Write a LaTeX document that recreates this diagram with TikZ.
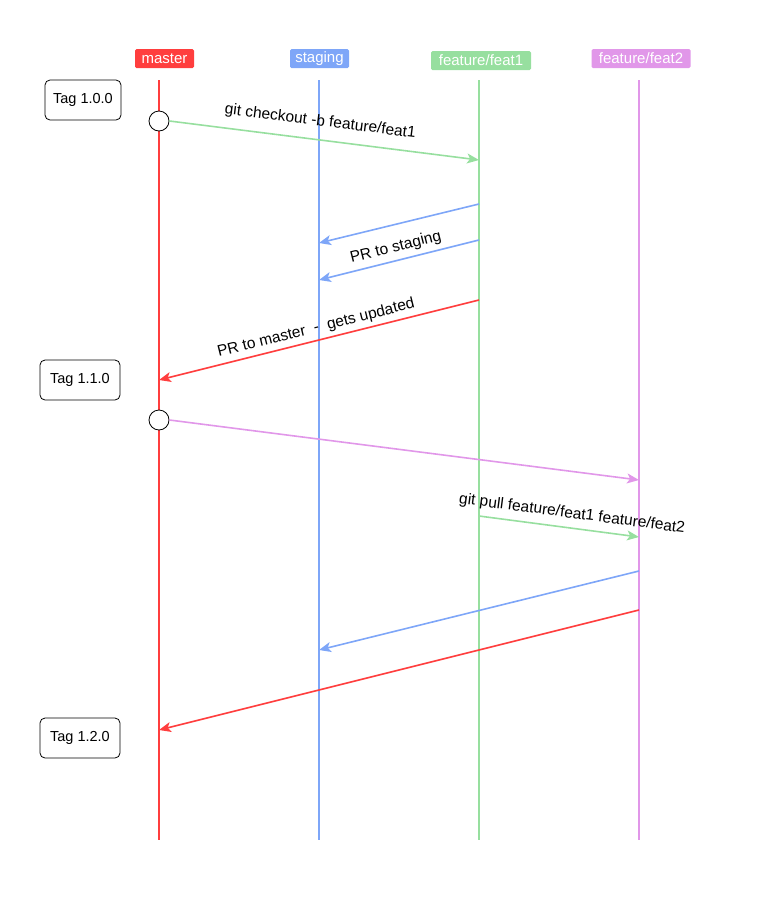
\documentclass[tikz,border=0pt]{standalone}
\usepackage{fontspec}
\setmainfont{Liberation Sans}
\usetikzlibrary{arrows.meta}
\definecolor{cmaster}{HTML}{FF3E3E}
\definecolor{cstaging}{HTML}{7EA6F8}
\definecolor{cfeatA}{HTML}{97DF9F}
\definecolor{cfeatB}{HTML}{E197E9}
\begin{document}
\begin{tikzpicture}[x=1pt,y=-1pt,
  hdr/.style={rounded corners=1.5pt, text=white, inner sep=0pt, minimum height=19pt, font=\fontsize{15}{17}\selectfont},
  tagbox/.style={draw=black, rounded corners=5pt, minimum width=76pt, minimum height=40pt, inner sep=0pt, font=\fontsize{14.5}{17}\selectfont, line width=0.8pt},
  lane/.style={line width=1.6pt},
  msg/.style={line width=1.6pt, -{Stealth[length=12pt,width=10pt,inset=3pt]}},
  lbl/.style={font=\fontsize{15.5}{17}\selectfont, sloped, inner sep=1pt},
  commit/.style={circle, draw=black, fill=white, minimum size=20pt, inner sep=0pt, line width=0.8pt}
]
\useasboundingbox (0,0) rectangle (760,922);
% headers
\node[hdr, fill=cmaster, minimum width=59pt] (hm) at (164.5,58.5) {master};
\node[hdr, fill=cstaging, minimum width=59pt] (hs) at (319.5,58.5) {staging};
\node[hdr, fill=cfeatA, minimum width=100pt] (ha) at (481,60.5) {feature/feat1};
\node[hdr, fill=cfeatB, minimum width=99pt] (hb) at (641,58.5) {feature/feat2};
% lanes
\coordinate (mt) at (159,80); \coordinate (mb) at (159,840);
\coordinate (st) at (319,80); \coordinate (sb) at (319,840);
\coordinate (at) at (479,80); \coordinate (ab) at (479,840);
\coordinate (bt) at (639,80); \coordinate (bb) at (639,840);
\draw[lane, cmaster] (mt) -- (mb);
\draw[lane, cstaging] (st) -- (sb);
\draw[lane, cfeatA] (at) -- (ab);
\draw[lane, cfeatB] (bt) -- (bb);
% tags
\node[tagbox] (t1) at (83,100) {Tag 1.0.0};
\node[tagbox, minimum width=80pt] (t2) at (80,380) {Tag 1.1.0};
\node[tagbox, minimum width=80pt] (t3) at (80,738) {Tag 1.2.0};
% commits
\node[commit] (c1) at (159,121) {};
\node[commit] (c2) at (159,420) {};
% end points
\coordinate (a1) at (479,160);
\coordinate (a2s) at (479,204); \coordinate (a2e) at (319,243);
\coordinate (a3s) at (479,240); \coordinate (a3e) at (319,280);
\coordinate (a4s) at (479,300); \coordinate (a4e) at (159,380);
\coordinate (a5) at (639,480);
\coordinate (a6s) at (479,516); \coordinate (a6e) at (639,537);
\coordinate (a7s) at (639,571); \coordinate (a7e) at (319,650);
\coordinate (a8s) at (639,610); \coordinate (a8e) at (159,730);
% messages
\draw[msg, cfeatA] (c1.east) -- (a1) node[lbl, pos=0.48, above=9pt, text=black] {git checkout -b feature/feat1};
\draw[msg, cstaging] (a2s) -- (a2e);
\draw[msg, cstaging] (a3s) -- (a3e) node[lbl, pos=0.5, above=4pt, text=black] {PR to staging};
\draw[msg, cmaster] (a4s) -- (a4e) node[lbl, pos=0.5, above=3pt, text=black] {PR to master \ - \ gets updated};
\draw[msg, cfeatB] (c2.east) -- (a5);
\draw[msg, cfeatA] (a6s) -- (a6e) node[lbl, pos=0.57, above=5pt, text=black] {git pull feature/feat1 feature/feat2};
\draw[msg, cstaging] (a7s) -- (a7e);
\draw[msg, cmaster] (a8s) -- (a8e);
\end{tikzpicture}
\end{document}
